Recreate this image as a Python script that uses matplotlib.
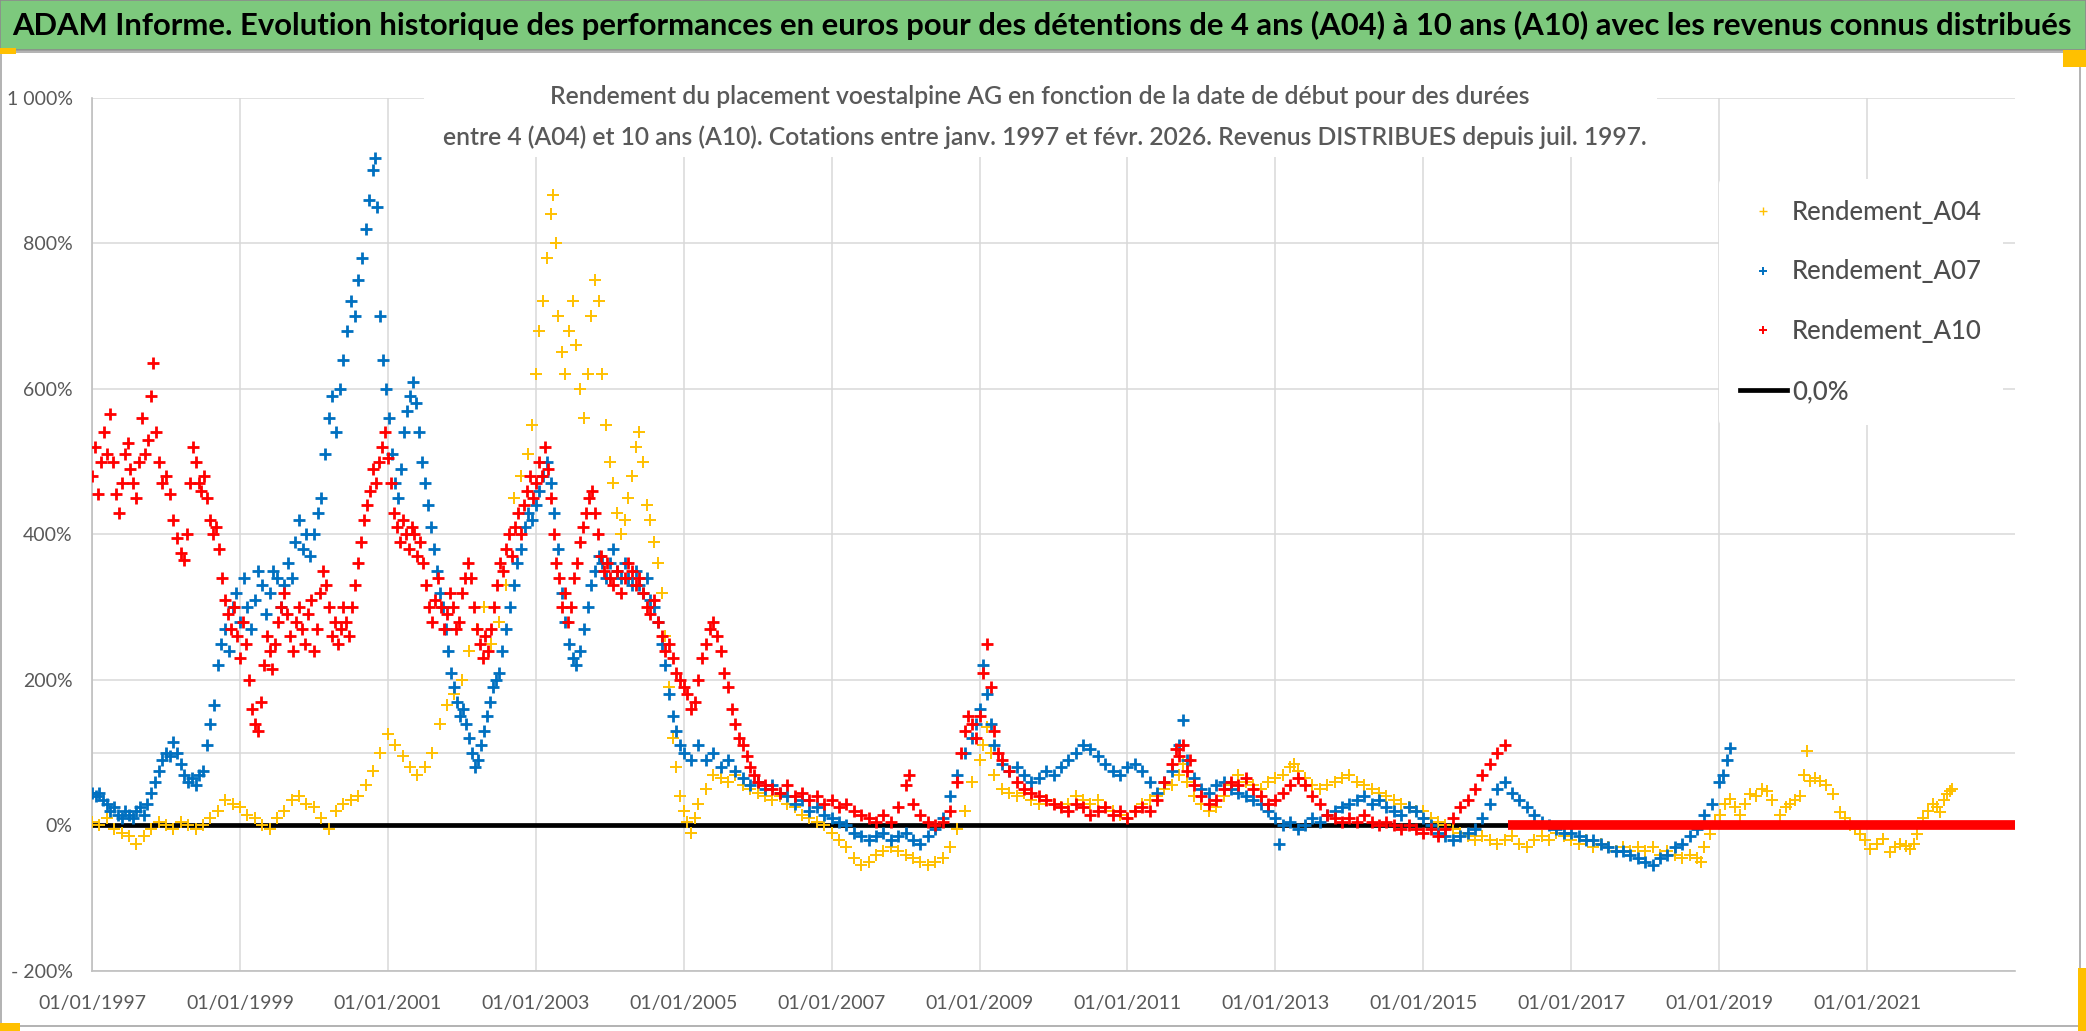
import matplotlib
matplotlib.use("Agg")
import matplotlib.pyplot as plt
from matplotlib.lines import Line2D
from matplotlib.patches import Rectangle


# --- données (années décimales, rendement en %) ---

a04_years = [
    1997.0, 1997.1, 1997.2, 1997.3, 1997.4, 1997.5, 1997.6, 1997.7, 1997.8, 1997.9,
    1998.0, 1998.1, 1998.2, 1998.3, 1998.4, 1998.5, 1998.6, 1998.7, 1998.8, 1998.9,
    1999.0, 1999.1, 1999.2, 1999.3, 1999.4, 1999.5, 1999.6, 1999.7, 1999.8, 1999.9,
    2000.0, 2000.1, 2000.2, 2000.3, 2000.4, 2000.5, 2000.6, 2000.7, 2000.8, 2000.9,
    2001.0, 2001.1, 2001.2, 2001.3, 2001.4, 2001.5, 2001.6, 2001.7, 2001.8, 2001.9,
    2002.0, 2002.1, 2002.2, 2002.3, 2002.4, 2002.5, 2002.6, 2002.7, 2002.8, 2002.9,
    2002.95, 2003.0, 2003.05, 2003.1, 2003.15, 2003.2, 2003.23, 2003.27, 2003.3, 2003.35,
    2003.4, 2003.45, 2003.5, 2003.55, 2003.6, 2003.65, 2003.7, 2003.75, 2003.8, 2003.85,
    2003.9, 2003.95, 2004.0, 2004.05, 2004.1, 2004.15, 2004.2, 2004.25, 2004.3, 2004.35,
    2004.4, 2004.45, 2004.5, 2004.55, 2004.6, 2004.65, 2004.7, 2004.75, 2004.8, 2004.85,
    2004.9, 2004.95, 2005.0, 2005.05, 2005.1, 2005.15, 2005.2, 2005.3, 2005.4, 2005.5,
    2005.6, 2005.7, 2005.8, 2005.9, 2006.0, 2006.1, 2006.2, 2006.3, 2006.4, 2006.5,
    2006.6, 2006.7, 2006.8, 2006.9, 2007.0, 2007.1, 2007.2, 2007.3, 2007.4, 2007.5,
    2007.6, 2007.7, 2007.8, 2007.9, 2008.0, 2008.1, 2008.2, 2008.3, 2008.4, 2008.5,
    2008.6, 2008.7, 2008.8, 2008.9, 2009.0, 2009.05, 2009.1, 2009.15, 2009.2, 2009.3,
    2009.4, 2009.5, 2009.6, 2009.7, 2009.8, 2009.9, 2010.0, 2010.1, 2010.2, 2010.3,
    2010.4, 2010.5, 2010.6, 2010.7, 2010.8, 2010.9, 2011.0, 2011.1, 2011.2, 2011.3,
    2011.4, 2011.5, 2011.6, 2011.7, 2011.75, 2011.8, 2011.9, 2012.0, 2012.1, 2012.2,
    2012.3, 2012.4, 2012.5, 2012.6, 2012.7, 2012.8, 2012.9, 2013.0, 2013.1, 2013.2,
    2013.25, 2013.3, 2013.4, 2013.5, 2013.6, 2013.7, 2013.8, 2013.9, 2014.0, 2014.1,
    2014.2, 2014.3, 2014.4, 2014.5, 2014.6, 2014.7, 2014.8, 2014.9, 2015.0, 2015.1,
    2015.2, 2015.3, 2015.4, 2015.5, 2015.6, 2015.7, 2015.8, 2015.9, 2016.0, 2016.1,
    2016.2, 2016.3, 2016.4, 2016.5, 2016.6, 2016.7, 2016.8, 2016.9, 2017.0, 2017.1,
    2017.2, 2017.3, 2017.4, 2017.5, 2017.6, 2017.7, 2017.8, 2017.9, 2018.0, 2018.1,
    2018.2, 2018.3, 2018.4, 2018.5, 2018.6, 2018.7, 2018.75, 2018.8, 2018.88, 2018.95,
    2019.01, 2019.08, 2019.15, 2019.22, 2019.28, 2019.35, 2019.42, 2019.5, 2019.58, 2019.65,
    2019.72, 2019.82, 2019.9, 2019.96, 2020.03, 2020.09, 2020.15, 2020.19, 2020.23, 2020.3,
    2020.36, 2020.45, 2020.54, 2020.63, 2020.7, 2020.77, 2020.84, 2020.9, 2020.97, 2021.04,
    2021.13, 2021.22, 2021.31, 2021.38, 2021.45, 2021.52, 2021.58, 2021.63, 2021.68, 2021.76,
    2021.83, 2021.89, 2021.95, 2021.99, 2022.04, 2022.08, 2022.12, 2022.15,
]
a04_values = [
    5, 0, 10, -5, -10, -15, -25, -15, -5, 5,
    0, -5, 5, 0, -5, 0, 10, 20, 35, 30,
    25, 15, 10, 0, -5, 10, 20, 35, 40, 30,
    25, 10, -5, 20, 30, 35, 40, 55, 75, 100,
    125, 110, 95, 80, 70, 80, 100, 140, 165, 180,
    200, 240, 270, 300, 250, 280, 330, 450, 480, 510,
    550, 620, 680, 720, 780, 840, 866, 800, 700, 650,
    620, 680, 720, 660, 600, 560, 620, 700, 750, 720,
    620, 550, 500, 470, 430, 400, 420, 450, 480, 520,
    540, 500, 440, 420, 390, 360, 320, 260, 190, 120,
    80, 40, 20, 5, -10, 10, 30, 50, 70, 65,
    60, 70, 55, 50, 45, 40, 35, 40, 30, 25,
    15, 10, 5, 0, -10, -20, -30, -45, -55, -50,
    -40, -35, -30, -35, -40, -45, -50, -55, -50, -45,
    -30, -5, 20, 60, 90, 110, 135, 100, 70, 50,
    45, 40, 45, 35, 30, 35, 30, 25, 30, 40,
    35, 30, 35, 25, 20, 15, 10, 20, 30, 35,
    40, 50, 55, 70, 85, 60, 40, 30, 20, 25,
    40, 55, 70, 60, 55, 50, 60, 65, 70, 80,
    85, 75, 65, 55, 50, 55, 60, 65, 70, 60,
    55, 50, 45, 40, 35, 30, 25, 20, 20, 10,
    5, 0, -5, -10, -15, -20, -15, -20, -25, -20,
    -15, -25, -30, -20, -15, -20, -10, -15, -20, -25,
    -20, -30, -25, -30, -35, -30, -35, -30, -35, -30,
    -40, -35, -40, -45, -40, -45, -50, -30, -12, 5,
    15, 30, 37, 25, 15, 30, 43, 40, 50, 47,
    35, 15, 25, 29, 35, 40, 70, 102, 61, 65,
    61, 55, 43, 19, 10, 1, -5, -12, -20, -32,
    -25, -18, -36, -30, -26, -28, -32, -25, -12, 10,
    20, 29, 25, 19, 35, 43, 48, 50,
]

a07_years = [
    1997.0, 1997.05, 1997.1, 1997.15, 1997.2, 1997.25, 1997.3, 1997.35, 1997.4, 1997.45,
    1997.5, 1997.55, 1997.6, 1997.65, 1997.7, 1997.75, 1997.8, 1997.85, 1997.9, 1997.95,
    1998.0, 1998.05, 1998.1, 1998.15, 1998.2, 1998.25, 1998.3, 1998.35, 1998.4, 1998.45,
    1998.5, 1998.55, 1998.6, 1998.65, 1998.7, 1998.75, 1998.8, 1998.85, 1998.9, 1998.95,
    1999.0, 1999.05, 1999.1, 1999.15, 1999.2, 1999.25, 1999.3, 1999.35, 1999.4, 1999.45,
    1999.5, 1999.55, 1999.6, 1999.65, 1999.7, 1999.75, 1999.8, 1999.85, 1999.9, 1999.95,
    2000.0, 2000.05, 2000.1, 2000.15, 2000.2, 2000.25, 2000.3, 2000.35, 2000.4, 2000.45,
    2000.5, 2000.55, 2000.6, 2000.65, 2000.7, 2000.75, 2000.8, 2000.83, 2000.86, 2000.9,
    2000.94, 2000.98, 2001.02, 2001.06, 2001.1, 2001.14, 2001.18, 2001.22, 2001.26, 2001.3,
    2001.34, 2001.38, 2001.42, 2001.46, 2001.5, 2001.54, 2001.58, 2001.62, 2001.66, 2001.7,
    2001.74, 2001.78, 2001.82, 2001.86, 2001.9, 2001.94, 2001.98, 2002.02, 2002.06, 2002.1,
    2002.14, 2002.18, 2002.22, 2002.26, 2002.3, 2002.34, 2002.38, 2002.42, 2002.46, 2002.5,
    2002.55, 2002.6, 2002.65, 2002.7, 2002.75, 2002.8, 2002.85, 2002.9, 2002.95, 2003.0,
    2003.05, 2003.1, 2003.15, 2003.2, 2003.25, 2003.3, 2003.35, 2003.4, 2003.45, 2003.5,
    2003.55, 2003.6, 2003.65, 2003.7, 2003.75, 2003.8, 2003.85, 2003.9, 2003.95, 2004.0,
    2004.05, 2004.1, 2004.15, 2004.2, 2004.25, 2004.3, 2004.35, 2004.4, 2004.45, 2004.5,
    2004.55, 2004.6, 2004.65, 2004.7, 2004.75, 2004.8, 2004.85, 2004.9, 2004.95, 2005.0,
    2005.1, 2005.2, 2005.3, 2005.4, 2005.5, 2005.6, 2005.7, 2005.8, 2005.9, 2006.0,
    2006.1, 2006.2, 2006.3, 2006.4, 2006.5, 2006.6, 2006.7, 2006.8, 2006.9, 2007.0,
    2007.1, 2007.2, 2007.3, 2007.4, 2007.5, 2007.6, 2007.7, 2007.8, 2007.9, 2008.0,
    2008.1, 2008.2, 2008.3, 2008.4, 2008.5, 2008.6, 2008.7, 2008.8, 2008.9, 2008.95,
    2009.0, 2009.05, 2009.1, 2009.15, 2009.2, 2009.3, 2009.4, 2009.5, 2009.6, 2009.7,
    2009.8, 2009.9, 2010.0, 2010.1, 2010.2, 2010.3, 2010.4, 2010.5, 2010.6, 2010.7,
    2010.8, 2010.9, 2011.0, 2011.1, 2011.2, 2011.3, 2011.4, 2011.5, 2011.6, 2011.7,
    2011.75, 2011.8, 2011.9, 2012.0, 2012.1, 2012.2, 2012.3, 2012.4, 2012.5, 2012.6,
    2012.7, 2012.8, 2012.9, 2013.0, 2013.05, 2013.1, 2013.2, 2013.3, 2013.4, 2013.5,
    2013.6, 2013.7, 2013.8, 2013.9, 2014.0, 2014.1, 2014.2, 2014.3, 2014.4, 2014.5,
    2014.6, 2014.7, 2014.8, 2014.9, 2015.0, 2015.1, 2015.2, 2015.3, 2015.4, 2015.5,
    2015.6, 2015.7, 2015.8, 2015.9, 2016.0, 2016.1, 2016.2, 2016.3, 2016.4, 2016.5,
    2016.6, 2016.7, 2016.8, 2016.9, 2017.0, 2017.1, 2017.2, 2017.3, 2017.4, 2017.5,
    2017.6, 2017.7, 2017.8, 2017.9, 2018.0, 2018.1, 2018.2, 2018.3, 2018.4, 2018.5,
    2018.6, 2018.7, 2018.8, 2018.9, 2019.0, 2019.05, 2019.1, 2019.15,
]
a07_values = [
    45, 40, 45, 35, 30, 20, 25, 15, 10, 20,
    15, 10, 20, 25, 15, 30, 45, 60, 75, 90,
    100, 95, 115, 100, 85, 70, 60, 65, 55, 70,
    75, 110, 140, 165, 220, 250, 270, 240, 300, 320,
    280, 340, 300, 270, 310, 350, 330, 290, 320, 350,
    340, 300, 330, 360, 340, 390, 420, 380, 400, 370,
    400, 430, 450, 510, 560, 590, 540, 600, 640, 680,
    720, 700, 750, 780, 820, 860, 900, 917, 850, 700,
    640, 600, 560, 510, 470, 450, 490, 540, 570, 590,
    610, 580, 540, 500, 470, 440, 410, 380, 350, 320,
    300, 270, 240, 210, 190, 170, 150, 160, 140, 120,
    100, 80, 90, 110, 130, 150, 170, 190, 200, 210,
    240, 270, 300, 330, 360, 380, 410, 430, 420, 440,
    460, 480, 500, 470, 430, 380, 320, 280, 250, 230,
    220, 240, 270, 300, 330, 350, 370, 360, 340, 360,
    380, 350, 340, 360, 340, 330, 350, 330, 320, 340,
    310, 300, 280, 250, 220, 180, 150, 130, 110, 100,
    90, 110, 90, 100, 80, 90, 75, 65, 55, 60,
    50, 55, 45, 40, 30, 35, 20, 25, 15, 10,
    5, 0, -10, -15, -20, -15, -10, -20, -15, -10,
    -20, -25, -15, -5, 10, 40, 70, 100, 120, 140,
    160, 220, 180, 140, 110, 85, 75, 80, 70, 60,
    65, 75, 70, 80, 90, 100, 110, 105, 95, 85,
    75, 70, 80, 85, 75, 60, 45, 60, 75, 110,
    145, 90, 65, 50, 45, 55, 60, 50, 45, 40,
    35, 30, 20, 10, -25, 0, 5, -5, 0, 10,
    5, 15, 20, 25, 30, 35, 40, 30, 35, 25,
    20, 15, 25, 20, 10, 0, -10, -15, -20, -15,
    -10, -5, 10, 30, 50, 60, 45, 35, 25, 15,
    5, 0, -5, -10, -10, -15, -20, -20, -25, -30,
    -35, -35, -40, -45, -50, -55, -45, -40, -30, -25,
    -15, -5, 15, 30, 60, 70, 90, 106,
]

a10_years = [
    1997.0, 1997.04, 1997.08, 1997.12, 1997.16, 1997.2, 1997.24, 1997.28, 1997.32, 1997.36,
    1997.4, 1997.44, 1997.48, 1997.52, 1997.56, 1997.6, 1997.64, 1997.68, 1997.72, 1997.76,
    1997.8, 1997.83, 1997.86, 1997.9, 1997.95, 1998.0, 1998.05, 1998.1, 1998.15, 1998.2,
    1998.24, 1998.28, 1998.32, 1998.36, 1998.4, 1998.44, 1998.48, 1998.52, 1998.56, 1998.6,
    1998.64, 1998.68, 1998.72, 1998.76, 1998.8, 1998.84, 1998.88, 1998.92, 1998.96, 1999.0,
    1999.04, 1999.08, 1999.12, 1999.16, 1999.2, 1999.24, 1999.28, 1999.32, 1999.36, 1999.4,
    1999.44, 1999.48, 1999.52, 1999.56, 1999.6, 1999.64, 1999.68, 1999.72, 1999.76, 1999.8,
    1999.84, 1999.88, 1999.92, 1999.96, 2000.0, 2000.04, 2000.08, 2000.12, 2000.16, 2000.2,
    2000.24, 2000.28, 2000.32, 2000.36, 2000.4, 2000.44, 2000.48, 2000.52, 2000.56, 2000.6,
    2000.64, 2000.68, 2000.72, 2000.76, 2000.8, 2000.84, 2000.88, 2000.92, 2000.96, 2001.0,
    2001.04, 2001.08, 2001.12, 2001.16, 2001.2, 2001.24, 2001.28, 2001.32, 2001.36, 2001.4,
    2001.44, 2001.48, 2001.52, 2001.56, 2001.6, 2001.64, 2001.68, 2001.72, 2001.76, 2001.8,
    2001.84, 2001.88, 2001.92, 2001.96, 2002.0, 2002.04, 2002.08, 2002.12, 2002.16, 2002.2,
    2002.24, 2002.28, 2002.32, 2002.36, 2002.4, 2002.44, 2002.48, 2002.52, 2002.56, 2002.6,
    2002.64, 2002.68, 2002.72, 2002.76, 2002.8, 2002.84, 2002.88, 2002.92, 2002.96, 2003.0,
    2003.04, 2003.08, 2003.12, 2003.16, 2003.2, 2003.24, 2003.28, 2003.32, 2003.36, 2003.4,
    2003.44, 2003.48, 2003.52, 2003.56, 2003.6, 2003.64, 2003.68, 2003.72, 2003.76, 2003.8,
    2003.84, 2003.88, 2003.92, 2003.96, 2004.0, 2004.05, 2004.1, 2004.15, 2004.2, 2004.25,
    2004.3, 2004.35, 2004.4, 2004.45, 2004.5, 2004.55, 2004.6, 2004.65, 2004.7, 2004.75,
    2004.8, 2004.85, 2004.9, 2004.95, 2005.0, 2005.05, 2005.1, 2005.15, 2005.2, 2005.25,
    2005.3, 2005.35, 2005.4, 2005.45, 2005.5, 2005.55, 2005.6, 2005.65, 2005.7, 2005.75,
    2005.8, 2005.85, 2005.9, 2005.95, 2006.0, 2006.1, 2006.2, 2006.3, 2006.4, 2006.5,
    2006.6, 2006.7, 2006.8, 2006.9, 2007.0, 2007.1, 2007.2, 2007.3, 2007.4, 2007.5,
    2007.6, 2007.7, 2007.8, 2007.9, 2008.0, 2008.05, 2008.1, 2008.2, 2008.3, 2008.4,
    2008.5, 2008.6, 2008.7, 2008.75, 2008.8, 2008.85, 2008.9, 2008.95, 2009.0, 2009.05,
    2009.1, 2009.15, 2009.2, 2009.25, 2009.3, 2009.4, 2009.5, 2009.6, 2009.7, 2009.8,
    2009.9, 2010.0, 2010.1, 2010.2, 2010.3, 2010.4, 2010.5, 2010.6, 2010.7, 2010.8,
    2010.9, 2011.0, 2011.1, 2011.2, 2011.3, 2011.4, 2011.5, 2011.6, 2011.65, 2011.7,
    2011.75, 2011.8, 2011.85, 2011.9, 2012.0, 2012.1, 2012.2, 2012.3, 2012.4, 2012.5,
    2012.6, 2012.7, 2012.8, 2012.9, 2013.0, 2013.1, 2013.2, 2013.3, 2013.4, 2013.5,
    2013.6, 2013.7, 2013.8, 2013.9, 2014.0, 2014.1, 2014.2, 2014.3, 2014.4, 2014.5,
    2014.6, 2014.7, 2014.8, 2014.9, 2015.0, 2015.1, 2015.2, 2015.3, 2015.4, 2015.5,
    2015.6, 2015.7, 2015.8, 2015.9, 2016.0, 2016.1,
]
a10_values = [
    480, 520, 455, 500, 540, 510, 565, 500, 455, 430,
    470, 510, 525, 490, 470, 450, 500, 560, 510, 530,
    590, 635, 540, 500, 470, 480, 455, 420, 395, 375,
    365, 400, 470, 520, 500, 470, 460, 480, 450, 420,
    400, 410, 380, 340, 310, 290, 270, 300, 260, 230,
    280, 250, 200, 160, 140, 130, 170, 220, 260, 240,
    215, 250, 280, 300, 320, 290, 260, 240, 280, 300,
    270, 250, 290, 310, 240, 270, 320, 350, 330, 300,
    260, 280, 250, 270, 300, 280, 260, 300, 330, 360,
    390, 420, 440, 460, 490, 470, 500, 520, 540, 505,
    470, 430, 410, 390, 420, 400, 380, 410, 400, 370,
    390, 360, 330, 300, 280, 310, 340, 300, 270, 290,
    320, 300, 270, 280, 320, 340, 360, 340, 300, 270,
    250, 230, 260, 240, 270, 300, 330, 360, 350, 380,
    400, 370, 410, 430, 400, 440, 460, 480, 450, 470,
    500, 480, 520, 490, 450, 400, 360, 340, 300, 320,
    280, 300, 340, 360, 390, 410, 430, 450, 460, 430,
    400, 370, 350, 360, 340, 330, 350, 320, 340, 360,
    350, 330, 340, 320, 300, 290, 310, 280, 260, 240,
    250, 230, 210, 200, 190, 180, 160, 170, 200, 230,
    250, 270, 280, 260, 240, 210, 190, 160, 140, 120,
    110, 95, 80, 70, 60, 55, 50, 45, 55, 40,
    45, 35, 40, 30, 35, 25, 30, 20, 15, 10,
    5, 15, 5, 25, 55, 70, 30, 15, 5, 0,
    5, 20, 60, 100, 130, 150, 140, 120, 150, 210,
    250, 190, 130, 100, 90, 75, 60, 50, 45, 40,
    35, 30, 25, 20, 30, 25, 15, 20, 25, 15,
    20, 10, 20, 25, 20, 35, 60, 85, 105, 95,
    110, 75, 90, 55, 40, 30, 35, 50, 60, 55,
    65, 50, 40, 30, 35, 45, 55, 65, 55, 40,
    30, 15, 10, 5, 10, 5, 15, 5, 0, 5,
    0, -5, 0, -5, -10, -5, -15, -5, 10, 25,
    35, 50, 70, 85, 100, 110,
]

# après la fin des données A10, la série est à 0 jusqu'au bout de l'axe
a10_zero_years = [2016.15, 2023.0]
a10_zero_values = [0, 0]

# ligne de référence 0,0 %
ref_years = [1997.0, 2023.0]
ref_values = [0, 0]

x_ticks = [1997, 1999, 2001, 2003, 2005, 2007, 2009, 2011, 2013, 2015, 2017, 2019, 2021]
x_tick_labels = ["01/01/%d" % y for y in x_ticks]
y_ticks = [-200, 0, 200, 400, 600, 800, 1000]
y_tick_labels = ["- 200%", "0%", "200%", "400%", "600%", "800%", "1 000%"]

series_labels = ["Rendement_A04", "Rendement_A07", "Rendement_A10", "0,0%"]

TITLE = ("ADAM Informe. Evolution historique des performances en euros pour des "
         "détentions de 4 ans (A04) à 10 ans (A10) avec les revenus connus distribués")
SUB_1 = ("Rendement du placement voestalpine AG en fonction de la date de début "
         "pour des durées")
SUB_2 = ("entre 4 (A04) et 10 ans (A10). Cotations entre janv. 1997 et févr. 2026. "
         "Revenus DISTRIBUES depuis juil. 1997.")

C_A04 = "#FFC000"
C_A07 = "#0070C0"
C_A10 = "#FF0000"
GRID = "#D9D9D9"
TXT = "#595959"

W, H = 2086, 1031
plt.rcParams["font.family"] = ["Lato", "DejaVu Sans"]


def px_rect(x0, y0, x1, y1, **kw):
    # rectangle en pixels (origine en haut à gauche) -> coordonnées figure
    return Rectangle((x0 / W, 1 - y1 / H), (x1 - x0) / W, (y1 - y0) / H,
                     transform=fig.transFigure, **kw)


def fit_width(text, width_px):
    renderer = fig.canvas.get_renderer()
    bb = text.get_window_extent(renderer)
    text.set_fontsize(text.get_fontsize() * width_px / bb.width)
    return text.get_fontsize()


fig = plt.figure(figsize=(W / 100, H / 100), dpi=100)

# cadre du graphique et bandeau vert
fig.patches.append(px_rect(1, 52, 2080, 1026, facecolor="white",
                           edgecolor="#A6A6A6", lw=1.2, zorder=-2))
fig.patches.append(px_rect(0, 0, W, 50, facecolor="#7DC97D",
                           edgecolor="#8C8C8C", lw=1.2, zorder=-1))
for x0, y0, x1, y1 in [(0, 48, 16, 54), (2063, 50, 2086, 67),
                       (0, 1023, 20, 1031), (2078, 968, 2086, 1031)]:
    fig.patches.append(px_rect(x0, y0, x1, y1, facecolor=C_A04,
                               edgecolor="none", zorder=-1))

ax = fig.add_axes([92 / W, 1 - 971 / H, (2015 - 92) / W, (971 - 97.7) / H])

ax.plot(ref_years, ref_values, color="black", lw=3.4, zorder=2,
        solid_capstyle="butt")
ax.plot(a04_years, a04_values, ls="", marker="+", color=C_A04,
        ms=9, mew=1.4, zorder=3)
ax.plot(a07_years, a07_values, ls="", marker="+", color=C_A07,
        ms=8.5, mew=2.0, zorder=4)
ax.plot(a10_years, a10_values, ls="", marker="+", color=C_A10,
        ms=8.5, mew=2.0, zorder=5)
ax.plot(a10_zero_years, a10_zero_values, color=C_A10, lw=7, zorder=5,
        solid_capstyle="butt")

ax.set_xlim(1997.0, 2023.0)
ax.set_ylim(-200, 1000)
ax.set_xticks(x_ticks)
ax.set_xticklabels(x_tick_labels)
ax.set_yticks(y_ticks)
ax.set_yticklabels(y_tick_labels)
ax.tick_params(length=0, labelsize=14, labelcolor=TXT)
ax.tick_params(axis="x", pad=17)
ax.tick_params(axis="y", pad=14)

ax.set_axisbelow(True)
ax.grid(True, color=GRID, lw=1.1)
ax.axhline(100, color=GRID, lw=1.1, zorder=0.5)
for side in ["top", "right"]:
    ax.spines[side].set_visible(False)
for side in ["left", "bottom"]:
    ax.spines[side].set_color("#BFBFBF")
    ax.spines[side].set_linewidth(1.2)

handles = [
    Line2D([], [], ls="", marker="+", color=C_A04, ms=6, mew=1.0),
    Line2D([], [], ls="", marker="+", color=C_A07, ms=6, mew=1.4),
    Line2D([], [], ls="", marker="+", color=C_A10, ms=6, mew=1.4),
    Line2D([], [], color="black", lw=3.4),
]
leg = ax.legend(handles, series_labels, loc="upper left",
                bbox_to_anchor=((1719 - 92) / 1923, (971 - 179) / 873.3),
                frameon=True, facecolor="white", edgecolor="none",
                framealpha=1, fontsize=18.5, handlelength=1.85,
                handletextpad=0.2, labelspacing=1.36, borderpad=0.8,
                borderaxespad=0)
for t in leg.get_texts():
    t.set_color("#4D4D4D")
    t.set_fontweight("medium")

# titre principal
title = fig.text(1042 / W, 1 - 25 / H, TITLE, ha="center", va="center",
                 fontsize=22, fontweight="bold", color="black")
fit_width(title, 2058)

# sous-titre sur fond blanc (cache le quadrillage)
fig.patches.append(px_rect(424, 60, 1657, 157, facecolor="white",
                           edgecolor="none", zorder=1))
sub2 = fig.text(1045 / W, 1 - 137 / H, SUB_2, ha="center", va="center",
                fontsize=16, fontweight="semibold", color=TXT, zorder=2)
size = fit_width(sub2, 1209)
sub1 = fig.text(1040 / W, 1 - 97 / H, SUB_1, ha="center", va="center",
                fontsize=size, fontweight="semibold", color=TXT, zorder=2)

fig.savefig("out.png", dpi=100)
